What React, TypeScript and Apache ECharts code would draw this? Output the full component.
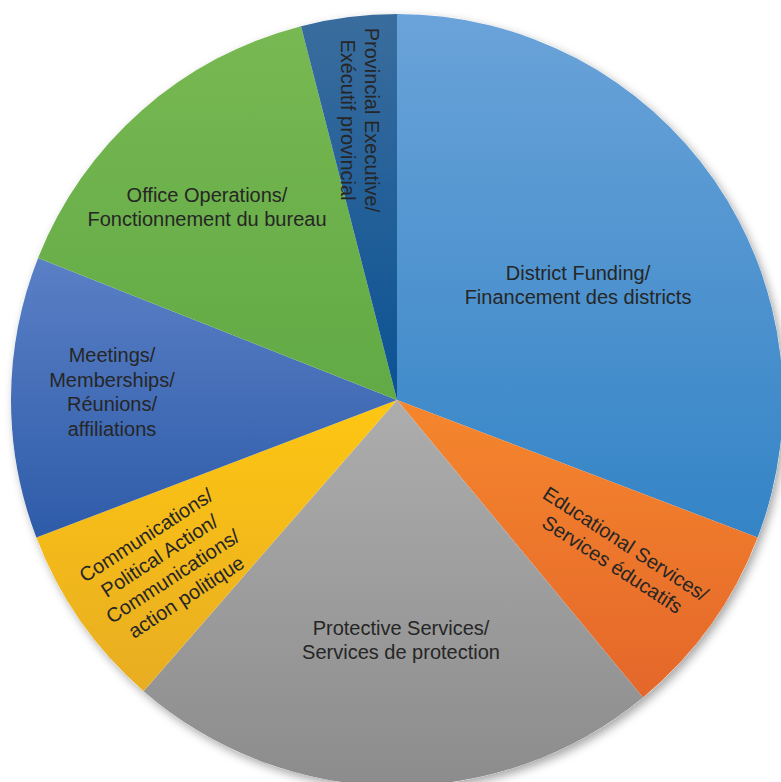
import React, { useEffect, useRef } from "react";
import * as echarts from "echarts";

const categories = [
  "District Funding/\nFinancement des districts",
  "Educational Services/\nServices éducatifs",
  "Protective Services/\nServices de protection",
  "Communications/\nPolitical Action/\nCommunications/\naction politique",
  "Meetings/\nMemberships/\nRéunions/\naffiliations",
  "Office Operations/\nFonctionnement du bureau",
  "Provincial Executive/\nExécutif provincial",
];
const values = [30.8, 8.2, 22.4, 7.8, 11.8, 15.0, 4.0];
const topColors = ["#6aa3d9", "#f5862d", "#adadad", "#fec612", "#5a80c6", "#78b852", "#3a6d9e"];
const bottomColors = ["#3484c6", "#e4672a", "#8c8c8c", "#e8ad22", "#2e5ba8", "#61aa45", "#0b5293"];

// label placement (centre x, y in px, rotation in degrees, counter-clockwise positive)
const labelX = [578, 619, 401, 166, 112, 207, 360];
const labelY = [285, 554, 640, 566, 392, 207, 120];
const labelRot = [0, -33, 0, 33, 0, 0, -90];

const CX = 397;
const CY = 400;
const R = 386;

export default function App() {
  const ref = useRef<HTMLDivElement>(null);
  useEffect(() => {
    if (!ref.current) return;
    const chart = echarts.init(ref.current, null, { renderer: "svg" });
    const data = values.map((v, i) => ({
      value: v,
      name: categories[i],
      itemStyle: {
        color: new echarts.graphic.LinearGradient(0, 0, 0, 1, [
          { offset: 0, color: topColors[i] },
          { offset: 1, color: bottomColors[i] },
        ]),
      },
    }));
    const labels = categories.map((c, i) => ({
      type: "text",
      x: labelX[i],
      y: labelY[i],
      rotation: (labelRot[i] * Math.PI) / 180,
      z: 100,
      silent: true,
      style: {
        text: c,
        fill: "#262626",
        font: '20px "Liberation Sans", Arial, sans-serif',
        lineHeight: 24.5,
        textAlign: "center",
        textVerticalAlign: "middle",
      },
    }));
    chart.setOption({
      animation: false,
      backgroundColor: "#ffffff",
      graphic: {
        elements: [
          {
            type: "circle",
            shape: { cx: CX, cy: CY, r: R },
            z: -10,
            silent: true,
            style: {
              fill: "#ffffff",
              shadowBlur: 10,
              shadowOffsetX: 3,
              shadowOffsetY: 4,
              shadowColor: "rgba(0,0,0,0.35)",
            },
          },
          ...labels,
        ],
      },
      series: [
        {
          type: "pie",
          center: [CX, CY],
          radius: R,
          startAngle: 90,
          clockwise: true,
          silent: true,
          label: { show: false },
          labelLine: { show: false },
          emphasis: { disabled: true },
          itemStyle: { borderWidth: 0 },
          data,
        },
      ],
    });
    return () => chart.dispose();
  }, []);
  return (
    <div
      ref={ref}
      style={{ position: "fixed", left: 0, top: 0, width: 781, height: 782 }}
    />
  );
}
